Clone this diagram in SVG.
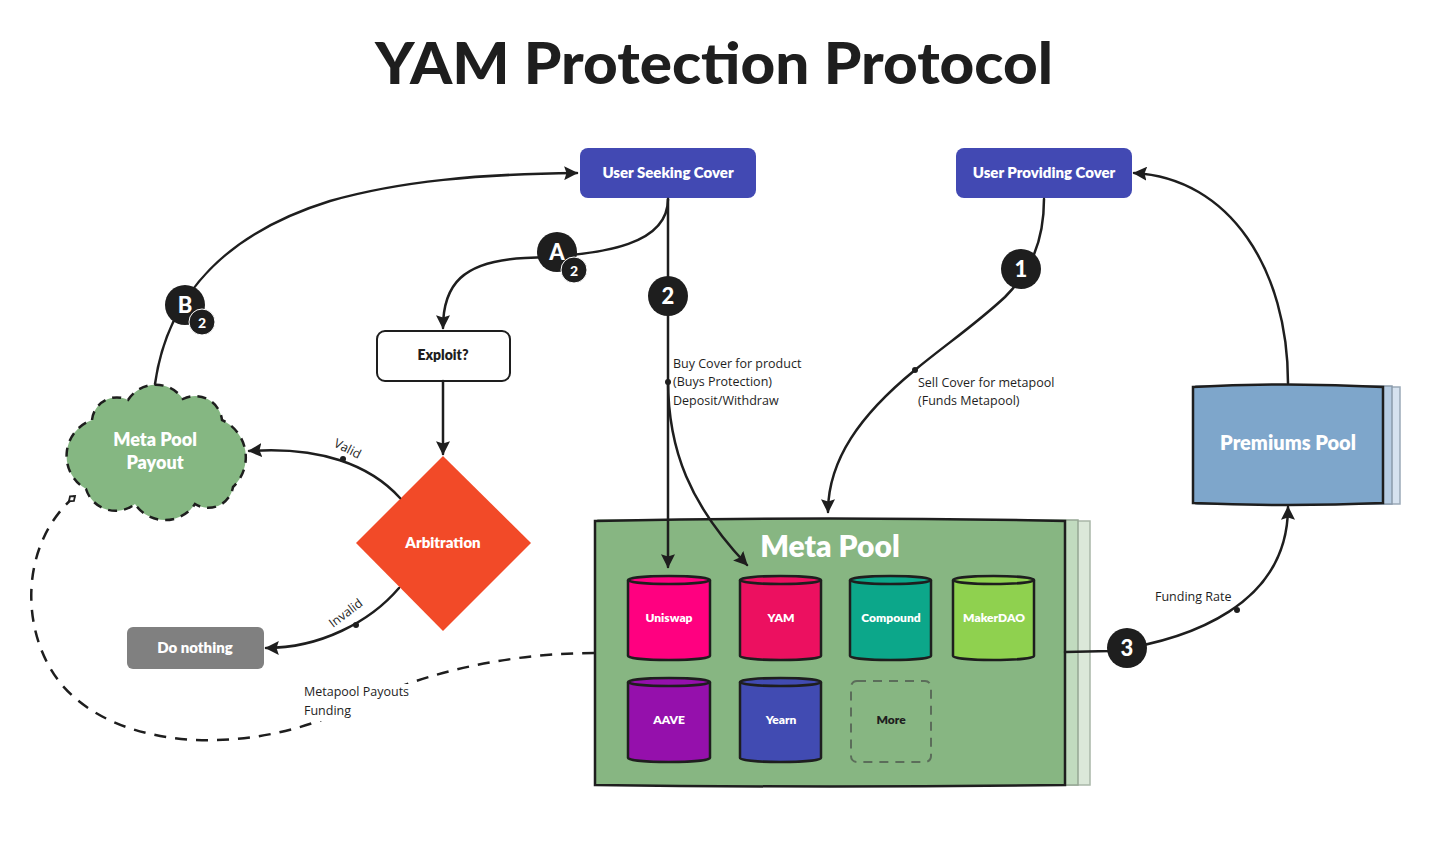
<svg xmlns="http://www.w3.org/2000/svg" width="1434" height="845" viewBox="0 0 1434 845">
<defs>
<style>
.ln{fill:none;stroke:#1e1e1e;stroke-width:2.5;stroke-linecap:round}
.dash{fill:none;stroke:#1e1e1e;stroke-width:2.5;stroke-dasharray:12 9}
.hd{font-family:Lato,"Noto Sans",sans-serif;font-weight:800;fill:#fff;text-anchor:middle}
.lb{font-family:"Open Sans","Noto Sans",sans-serif;font-size:12.5px;fill:#1e1e1e}
.badge{fill:#1e1e1e}
.bt{font-family:Lato,"Noto Sans",sans-serif;font-weight:900;fill:#fff;text-anchor:middle}
.cyl{stroke:#1e1e1e;stroke-width:2.5}
.dot{fill:#1e1e1e}
</style>
<marker id="arr" viewBox="0 0 12 12" refX="11" refY="6" markerWidth="14" markerHeight="14" markerUnits="userSpaceOnUse" orient="auto">
<path d="M0,0 L12,6 L0,12 L2,6 Z" fill="#1e1e1e"/>
</marker>
<marker id="dia" viewBox="0 0 12 12" refX="10" refY="6" markerWidth="12" markerHeight="12" markerUnits="userSpaceOnUse" orient="auto">
<path d="M2,6 L6,3 L10,6 L6,9 Z" fill="#fff" stroke="#1e1e1e" stroke-width="1.8"/>
</marker>
</defs>
<rect width="1434" height="845" fill="#fff"/>
<text x="714" y="84" font-family="Lato,'Noto Sans',sans-serif" font-weight="900" font-size="58" fill="#1e1e1e" text-anchor="middle" textLength="678" lengthAdjust="spacingAndGlyphs">YAM Protection Protocol</text>

<g id="user-seeking-cover">
<rect x="580" y="148" width="176" height="50" rx="8" fill="#4249b3"/>
<text class="hd" x="668" y="178" font-size="15">User Seeking Cover</text>
</g>
<g id="user-providing-cover">
<rect x="956" y="148" width="176" height="50" rx="8" fill="#4249b3"/>
<text class="hd" x="1044" y="178" font-size="15">User Providing Cover</text>
</g>
<g id="exploit">
<rect x="377" y="331" width="133" height="50" rx="8" fill="#fff" stroke="#1e1e1e" stroke-width="2"/>
<text class="hd" x="443" y="360" font-size="14" style="fill:#1e1e1e">Exploit?</text>
</g>
<g id="arbitration">
<path d="M443,456 L531,543 L443,631 L356,543 Z" fill="#f24a28"/>
<text class="hd" x="443" y="548" font-size="15">Arbitration</text>
</g>
<g id="do-nothing">
<rect x="127" y="627" width="137" height="42" rx="6" fill="#808080"/>
<text class="hd" x="195" y="653" font-size="15">Do nothing</text>
</g>
<g id="meta-pool-payout">
<path d="M92,420 A25,25 0 0 1 128,400 A33,33 0 0 1 183,399 A27,27 0 0 1 222,420 A41,41 0 0 1 233,487 A25,25 0 0 1 195,504 A36,36 0 0 1 135,504 A31,31 0 0 1 86,489 A38,38 0 0 1 92,420 Z" fill="#85b782" stroke="#1e1e1e" stroke-width="2.5" stroke-dasharray="9 7"/>
<text class="hd" x="155" y="446" font-size="18">Meta Pool</text>
<text class="hd" x="155" y="469" font-size="18">Payout</text>
</g>

<g id="premiums-pool">
<path d="M1198,387 h202 v117 h-202 Z" fill="#d6e2ef" stroke="#9aa9b8" stroke-width="1.5"/>
<path d="M1196,386 h196 v118 h-196 Z" fill="#b7cce2" stroke="#8a9aaa" stroke-width="1.5"/>
<path d="M1193,387 Q1288,382 1383,387 V503 Q1288,507 1193,503 Z" fill="#7ea6cb" stroke="#1e1e1e" stroke-width="2.5"/>
<text class="hd" x="1288" y="450" font-size="20">Premiums Pool</text>
</g>

<g id="meta-pool">
<path d="M600,521 h490 v264 h-490 Z" fill="#dbe8d9" stroke="#a9b7a8" stroke-width="1.5"/>
<path d="M598,520 h480 v265 h-480 Z" fill="#c1dbbf" stroke="#95a794" stroke-width="1.5"/>
<path d="M595,521 Q830,516 1065,521 V785 Q830,788 595,785 Z" fill="#87b682" stroke="#1e1e1e" stroke-width="2.5"/>
<text class="hd" x="830" y="557" font-size="30">Meta Pool</text>
</g>

<g id="uniswap">
<path class="cyl" d="M628,580 A41,4 0 0 1 710,580 V656 A41,4 0 0 1 628,656 Z" fill="#ff0080"/>
<path class="cyl" d="M628,580 A41,4 0 0 0 710,580" fill="none" stroke-width="1.5"/>
<text class="hd" x="669" y="622" font-size="12">Uniswap</text>
</g>
<g id="yam">
<path class="cyl" d="M740,580 A40.5,4 0 0 1 821,580 V656 A40.5,4 0 0 1 740,656 Z" fill="#ec1060"/>
<path class="cyl" d="M740,580 A40.5,4 0 0 0 821,580" fill="none" stroke-width="1.5"/>
<text class="hd" x="781" y="622" font-size="12">YAM</text>
</g>
<g id="compound">
<path class="cyl" d="M850,580 A40.5,4 0 0 1 931,580 V656 A40.5,4 0 0 1 850,656 Z" fill="#0ca78a"/>
<path class="cyl" d="M850,580 A40.5,4 0 0 0 931,580" fill="none" stroke-width="1.5"/>
<text class="hd" x="891" y="622" font-size="12">Compound</text>
</g>
<g id="makerdao">
<path class="cyl" d="M953,580 A40.5,4 0 0 1 1034,580 V656 A40.5,4 0 0 1 953,656 Z" fill="#8fd14f"/>
<path class="cyl" d="M953,580 A40.5,4 0 0 0 1034,580" fill="none" stroke-width="1.5"/>
<text class="hd" x="994" y="622" font-size="12">MakerDAO</text>
</g>
<g id="aave">
<path class="cyl" d="M628,682 A41,4 0 0 1 710,682 V758 A41,4 0 0 1 628,758 Z" fill="#9510ac"/>
<path class="cyl" d="M628,682 A41,4 0 0 0 710,682" fill="none" stroke-width="1.5"/>
<text class="hd" x="669" y="724" font-size="12">AAVE</text>
</g>
<g id="yearn">
<path class="cyl" d="M740,682 A40.5,4 0 0 1 821,682 V758 A40.5,4 0 0 1 740,758 Z" fill="#414bb2"/>
<path class="cyl" d="M740,682 A40.5,4 0 0 0 821,682" fill="none" stroke-width="1.5"/>
<text class="hd" x="781" y="724" font-size="12">Yearn</text>
</g>
<g id="more">
<rect x="851" y="681" width="80" height="81" rx="6" fill="none" stroke="#5b6d5a" stroke-width="2" stroke-dasharray="9 7"/>
<text class="hd" x="891" y="724" font-size="12" style="fill:#1e1e1e">More</text>
</g>

<g id="connectors">
<path class="ln" d="M155,384 C168,292 230,232 330,201 C400,181 480,174 577,173" marker-end="url(#arr)"/>
<path class="ln" d="M668,199 C668,243 610,255 525,258 C462,261 443,285 443,328" marker-end="url(#arr)"/>
<path class="ln" d="M668,199 L668,567" marker-end="url(#arr)"/>
<path class="ln" d="M668,380 C668,450 690,505 747,565" marker-end="url(#arr)"/>
<path class="ln" d="M1044,199 C1044,242 1030,272 1005,297 C975,325 945,345 915,370 C860,415 828,460 828,512" marker-end="url(#arr)"/>
<path class="ln" d="M1288,383 C1288,270 1230,178 1134,173" marker-end="url(#arr)"/>
<path class="ln" d="M1065,652 L1110,651 C1190,640 1288,605 1288,507" marker-end="url(#arr)"/>
<path class="ln" d="M443,381 L443,454" marker-end="url(#arr)"/>
<path class="ln" d="M400,498 C370,465 320,446 249,451" marker-end="url(#arr)"/>
<path class="ln" d="M399,588 C370,622 320,648 266,648" marker-end="url(#arr)"/>
<path class="dash" d="M594,653 C520,653 430,668 350,708 C250,756 120,752 62,685 C20,635 18,545 75,496" marker-end="url(#dia)"/>
<circle class="dot" cx="668" cy="382" r="3"/>
<circle class="dot" cx="915" cy="370" r="3"/>
<circle class="dot" cx="1237" cy="610" r="3"/>
<circle class="dot" cx="343" cy="459" r="3"/>
<circle class="dot" cx="356" cy="625" r="3"/>
<text class="lb" x="673" y="368">Buy Cover for product</text>
<text class="lb" x="673" y="386">(Buys Protection)</text>
<text class="lb" x="673" y="405">Deposit/Withdraw</text>
<text class="lb" x="918" y="387">Sell Cover for metapool</text>
<text class="lb" x="918" y="405">(Funds Metapool)</text>
<text class="lb" x="1155" y="601">Funding Rate</text>
<rect x="302" y="684" width="110" height="37" fill="#fff"/>
<text class="lb" x="304" y="696">Metapool Payouts</text>
<text class="lb" x="304" y="715">Funding</text>
<text class="lb" x="333" y="446" transform="rotate(27 333 446)">Valid</text>
<text class="lb" x="333" y="628" transform="rotate(-37 333 628)">Invalid</text>
</g>

<g id="badge-a2">
<circle class="badge" cx="557" cy="252" r="20"/>
<circle class="badge" cx="574" cy="270" r="13" stroke="#fff" stroke-width="1"/>
<text class="bt" x="557" y="260" font-size="22">A</text>
<text class="bt" x="574" y="276" font-size="14">2</text>
</g>
<g id="badge-b2">
<circle class="badge" cx="185" cy="305" r="20"/>
<circle class="badge" cx="202" cy="322" r="13" stroke="#fff" stroke-width="1"/>
<text class="bt" x="185" y="313" font-size="22">B</text>
<text class="bt" x="202" y="328" font-size="14">2</text>
</g>
<g id="badge-1">
<circle class="badge" cx="1021" cy="269" r="20"/>
<text class="bt" x="1021" y="277" font-size="22">1</text>
</g>
<g id="badge-2">
<circle class="badge" cx="668" cy="296" r="20"/>
<text class="bt" x="668" y="304" font-size="22">2</text>
</g>
<g id="badge-3">
<circle class="badge" cx="1127" cy="648" r="20"/>
<text class="bt" x="1127" y="656" font-size="22">3</text>
</g>
</svg>
